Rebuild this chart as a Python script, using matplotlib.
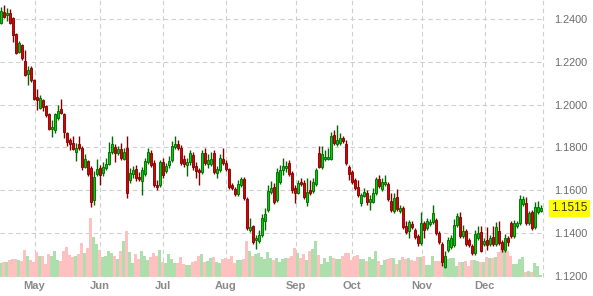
import matplotlib
matplotlib.use('Agg')
import matplotlib.pyplot as plt
import matplotlib.transforms as mtransforms
import numpy as np

opens = [1.2382,1.2433,1.2419,1.2428,1.2405,1.2330,1.2246,1.2279,1.2204,1.2143,
         1.2171,1.2115,1.2036,1.1984,1.2022,1.1994,1.1956,1.1886,1.1882,1.1938,
         1.1980,1.1956,1.1867,1.1835,1.1821,1.1779,1.1816,1.1797,1.1709,1.1737,
         1.1704,1.1554,1.1676,1.1704,1.1681,1.1704,1.1723,1.1779,1.1802,1.1774,
         1.1793,1.1746,1.1797,1.1648,1.1676,1.1699,1.1662,1.1643,1.1676,1.1732,
         1.1774,1.1727,1.1625,1.1625,1.1732,1.1690,1.1718,1.1741,1.1802,1.1816,
         1.1797,1.1746,1.1718,1.1732,1.1765,1.1713,1.1695,1.1685,1.1774,1.1723,
         1.1723,1.1774,1.1681,1.1695,1.1746,1.1727,1.1699,1.1625,1.1606,1.1582,
         1.1625,1.1653,1.1559,1.1414,1.1433,1.1367,1.1363,1.1391,1.1456,1.1508,
         1.1592,1.1615,1.1554,1.1639,1.1695,1.1704,1.1727,1.1681,1.1610,1.1587,
         1.1639,1.1634,1.1545,1.1601,1.1596,1.1629,1.1774,1.1709,1.1746,1.1746,
         1.1746,1.1858,1.1816,1.1821,1.1844,1.1816,1.1709,1.1685,1.1648,1.1615,
         1.1540,1.1573,1.1587,1.1545,1.1545,1.1587,1.1653,1.1606,1.1629,1.1629,
         1.1550,1.1503,1.1568,1.1503,1.1517,1.1433,1.1410,1.1442,1.1414,1.1386,
         1.1353,1.1447,1.1424,1.1442,1.1452,1.1461,1.1400,1.1349,1.1241,1.1321,
         1.1335,1.1344,1.1438,1.1475,1.1386,1.1410,1.1367,1.1339,1.1307,1.1377,
         1.1405,1.1349,1.1367,1.1349,1.1382,1.1349,1.1410,1.1358,1.1321,1.1377,
         1.1447,1.1386,1.1433,1.1447,1.1536,1.1540,1.1447,1.1498,1.1428,1.1498,
         1.1503]
highs = [1.2456,1.2466,1.2452,1.2447,1.2410,1.2335,1.2297,1.2283,1.2255,1.2181,
         1.2181,1.2120,1.2073,1.2045,1.2026,1.1998,1.1961,1.1928,1.1961,1.1998,
         1.2026,1.1961,1.1872,1.1844,1.1853,1.1821,1.1853,1.1807,1.1769,1.1741,
         1.1713,1.1690,1.1746,1.1718,1.1732,1.1751,1.1825,1.1853,1.1816,1.1807,
         1.1821,1.1797,1.1853,1.1704,1.1713,1.1718,1.1685,1.1709,1.1751,1.1797,
         1.1788,1.1741,1.1648,1.1741,1.1751,1.1727,1.1760,1.1830,1.1853,1.1835,
         1.1811,1.1765,1.1751,1.1788,1.1779,1.1732,1.1704,1.1788,1.1797,1.1769,
         1.1779,1.1788,1.1713,1.1769,1.1797,1.1741,1.1704,1.1634,1.1615,1.1648,
         1.1662,1.1662,1.1568,1.1470,1.1438,1.1391,1.1414,1.1489,1.1517,1.1625,
         1.1643,1.1634,1.1704,1.1718,1.1751,1.1737,1.1741,1.1690,1.1625,1.1648,
         1.1657,1.1648,1.1657,1.1648,1.1657,1.1704,1.1807,1.1807,1.1788,1.1797,
         1.1872,1.1882,1.1905,1.1867,1.1853,1.1835,1.1718,1.1695,1.1657,1.1648,
         1.1587,1.1610,1.1601,1.1578,1.1610,1.1662,1.1671,1.1657,1.1671,1.1639,
         1.1587,1.1587,1.1606,1.1531,1.1526,1.1456,1.1461,1.1456,1.1424,1.1396,
         1.1498,1.1456,1.1470,1.1466,1.1531,1.1470,1.1410,1.1358,1.1316,1.1382,
         1.1391,1.1466,1.1494,1.1498,1.1438,1.1419,1.1377,1.1349,1.1414,1.1433,
         1.1433,1.1377,1.1428,1.1391,1.1433,1.1452,1.1456,1.1367,1.1396,1.1386,
         1.1456,1.1461,1.1456,1.1578,1.1573,1.1568,1.1503,1.1508,1.1545,1.1550,
         1.1531]
lows = [1.2377,1.2405,1.2391,1.2377,1.2293,1.2237,1.2241,1.2209,1.2134,1.2092,
        1.2106,1.2022,1.1975,1.1980,1.1970,1.1942,1.1882,1.1849,1.1867,1.1928,
        1.1956,1.1844,1.1807,1.1788,1.1788,1.1737,1.1788,1.1695,1.1704,1.1667,
        1.1522,1.1531,1.1667,1.1625,1.1667,1.1695,1.1718,1.1769,1.1732,1.1765,
        1.1741,1.1741,1.1564,1.1634,1.1657,1.1643,1.1643,1.1578,1.1667,1.1723,
        1.1709,1.1615,1.1601,1.1615,1.1657,1.1681,1.1704,1.1732,1.1793,1.1788,
        1.1718,1.1709,1.1667,1.1718,1.1695,1.1657,1.1625,1.1676,1.1718,1.1704,
        1.1713,1.1676,1.1657,1.1685,1.1718,1.1690,1.1606,1.1601,1.1573,1.1573,
        1.1615,1.1554,1.1414,1.1405,1.1349,1.1325,1.1353,1.1382,1.1414,1.1498,
        1.1582,1.1536,1.1545,1.1629,1.1671,1.1685,1.1667,1.1587,1.1540,1.1582,
        1.1620,1.1559,1.1526,1.1578,1.1587,1.1620,1.1704,1.1699,1.1737,1.1741,
        1.1741,1.1811,1.1807,1.1811,1.1821,1.1718,1.1648,1.1629,1.1601,1.1568,
        1.1526,1.1568,1.1531,1.1508,1.1540,1.1578,1.1610,1.1596,1.1620,1.1550,
        1.1498,1.1494,1.1503,1.1494,1.1419,1.1396,1.1377,1.1419,1.1372,1.1339,
        1.1344,1.1377,1.1414,1.1433,1.1442,1.1391,1.1349,1.1246,1.1237,1.1311,
        1.1325,1.1335,1.1428,1.1377,1.1377,1.1339,1.1335,1.1297,1.1297,1.1367,
        1.1311,1.1339,1.1321,1.1339,1.1339,1.1339,1.1344,1.1311,1.1311,1.1339,
        1.1377,1.1377,1.1424,1.1438,1.1526,1.1438,1.1438,1.1414,1.1419,1.1489,
        1.1498]
closes = [1.2438,1.2410,1.2428,1.2382,1.2325,1.2241,1.2288,1.2218,1.2139,1.2162,
          1.2115,1.2026,1.2022,1.2031,1.1989,1.1952,1.1886,1.1896,1.1956,1.1970,
          1.1961,1.1872,1.1825,1.1816,1.1793,1.1797,1.1797,1.1709,1.1746,1.1676,
          1.1545,1.1662,1.1699,1.1671,1.1709,1.1723,1.1779,1.1816,1.1774,1.1793,
          1.1751,1.1779,1.1587,1.1681,1.1695,1.1657,1.1653,1.1695,1.1737,1.1779,
          1.1718,1.1625,1.1615,1.1732,1.1671,1.1713,1.1737,1.1807,1.1816,1.1797,
          1.1727,1.1723,1.1732,1.1774,1.1709,1.1690,1.1685,1.1774,1.1727,1.1741,
          1.1746,1.1685,1.1699,1.1751,1.1727,1.1699,1.1615,1.1610,1.1582,1.1629,
          1.1653,1.1564,1.1424,1.1428,1.1358,1.1377,1.1391,1.1470,1.1489,1.1596,
          1.1610,1.1545,1.1685,1.1695,1.1713,1.1713,1.1676,1.1601,1.1587,1.1634,
          1.1629,1.1568,1.1592,1.1587,1.1639,1.1695,1.1709,1.1769,1.1755,1.1755,
          1.1853,1.1821,1.1835,1.1844,1.1830,1.1727,1.1676,1.1639,1.1610,1.1578,
          1.1578,1.1592,1.1545,1.1559,1.1587,1.1653,1.1620,1.1639,1.1639,1.1559,
          1.1508,1.1564,1.1512,1.1517,1.1428,1.1405,1.1452,1.1428,1.1382,1.1353,
          1.1447,1.1414,1.1456,1.1452,1.1494,1.1400,1.1358,1.1265,1.1293,1.1367,
          1.1377,1.1438,1.1480,1.1386,1.1410,1.1349,1.1344,1.1307,1.1396,1.1400,
          1.1316,1.1363,1.1344,1.1377,1.1349,1.1428,1.1353,1.1325,1.1377,1.1358,
          1.1386,1.1447,1.1447,1.1559,1.1559,1.1447,1.1494,1.1424,1.1522,1.1522,
          1.1515]
volumes = [14,15,15,17,18,18,17,16,27,21,17,15,25,21,21,13,23,21,26,17,
           16,26,30,22,20,21,23,34,24,29,59,40,33,27,20,21,26,24,21,18,
           26,36,46,25,14,23,18,26,21,17,20,24,21,27,15,14,23,18,14,14,
           20,13,12,12,15,16,21,23,15,16,19,20,15,14,18,19,18,21,14,17,
           17,18,36,26,21,23,24,20,18,25,19,17,19,15,18,19,19,21,29,24,
           19,23,17,26,28,36,22,13,19,15,21,19,18,18,21,24,24,17,21,22,
           18,18,16,20,18,26,16,12,17,18,19,19,13,17,20,18,19,17,16,20,
           20,21,12,12,21,16,16,16,20,18,19,19,11,15,15,16,11,17,17,16,
           15,15,20,19,19,20,25,31,33,26,21,13,13,18,20,5,6,5,14,11,2]

month_labels = ['May', 'Jun', 'Jul', 'Aug', 'Sep', 'Oct', 'Nov', 'Dec']
month_pos = [11.2, 33, 54, 75, 98.2, 117.1, 140.2, 161.2]
price_ticks = [1.12, 1.14, 1.16, 1.18, 1.20, 1.22, 1.24]
last_price = 1.1515

plt.rcParams['font.family'] = ['Liberation Sans', 'DejaVu Sans']

W, H = 593, 296
fig = plt.figure(figsize=(W / 100, H / 100), dpi=100)
ax = fig.add_axes([0, 1 - 277 / H, 543 / W, 277 / H])

n = len(closes)
x = np.arange(n)
o = np.array(opens); c = np.array(closes)
hi = np.array(highs); lo = np.array(lows)
up = c >= o

ax.set_xlim(-0.33, n - 1 + 0.67)
ax.set_ylim(1.1195, 1.2489)

grid_kw = dict(color='#cfcfcf', lw=0.8, ls=(0, (4, 3)), zorder=0.5)
for p in price_ticks:
    ax.axhline(p, **grid_kw)
for m in month_pos:
    ax.axvline(m, **grid_kw)
ax.axvline(n - 1 + 0.67, clip_on=False, **grid_kw)

# volume
ytr = mtransforms.Affine2D().scale(1, 1 / 277) + ax.transAxes
vtrans = mtransforms.blended_transform_factory(ax.transData, ytr)
vcol = ['#acdfac' if u else '#ffc0c0' for u in up]
ax.bar(x, volumes, width=1.0, color=vcol, linewidth=0, transform=vtrans, zorder=1)

# candles
wick_col = ['#006a00' if u else '#800000' for u in up]
ax.vlines(x, lo, hi, colors=wick_col, lw=1.0, zorder=2)
body_face = ['#00d000' if u else '#e00000' for u in up]
body_edge = ['#006400' if u else '#7a0000' for u in up]
body_h = np.maximum(np.abs(c - o), 0.0004)
ax.bar(x, body_h, bottom=np.minimum(o, c), width=0.78, color=body_face,
       edgecolor=body_edge, linewidth=0.6, zorder=3)

for s in ax.spines.values():
    s.set_visible(False)
ax.set_xticks(month_pos)
ax.set_xticklabels(month_labels)
ax.tick_params(axis='x', length=0, pad=3, labelsize=8, labelcolor='#8a8a8a')
for t in ax.get_xticklabels():
    t.set_fontweight('bold')
ax.yaxis.tick_right()
ax.set_yticks(price_ticks)
ax.set_yticklabels([f'{p:.4f}' for p in price_ticks])
ax.tick_params(axis='y', length=0, pad=8, labelsize=7.8, labelcolor='#6b6b6b')

ax.text(1.0 + 8 / 543, last_price, f'{last_price:.4f}',
        transform=mtransforms.blended_transform_factory(ax.transAxes, ax.transData),
        ha='left', va='center', fontsize=8.5, color='#333333',
        bbox=dict(boxstyle='square,pad=0.2', fc='#ffff00', ec='none'), clip_on=False)

fig.savefig('out.png', dpi=100)
